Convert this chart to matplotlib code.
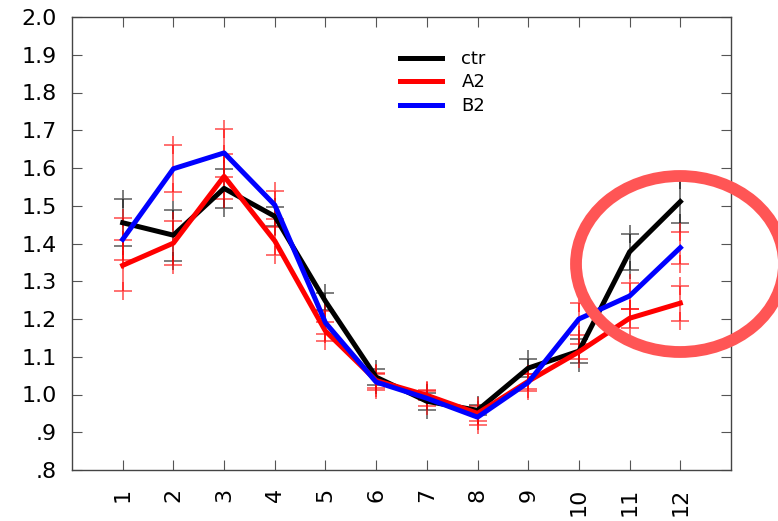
import matplotlib
matplotlib.use("Agg")
import matplotlib.pyplot as plt
from matplotlib.patches import Ellipse
import numpy as np

months = [1, 2, 3, 4, 5, 6, 7, 8, 9, 10, 11, 12]
month_labels = ["1", "2", "3", "4", "5", "6", "7", "8", "9", "10", "11", "12"]

ctr = [1.455, 1.422, 1.546, 1.472, 1.247, 1.046, 0.982, 0.958, 1.070, 1.115, 1.378, 1.511]
ctr_err = [0.062, 0.068, 0.052, 0.026, 0.022, 0.022, 0.022, 0.013, 0.024, 0.032, 0.048, 0.058]

A2 = [1.342, 1.401, 1.578, 1.407, 1.168, 1.037, 0.998, 0.950, 1.035, 1.113, 1.202, 1.242]
A2_err = [0.068, 0.059, 0.060, 0.037, 0.025, 0.020, 0.013, 0.020, 0.020, 0.020, 0.025, 0.046]

B2 = [1.411, 1.598, 1.640, 1.502, 1.190, 1.033, 0.990, 0.940, 1.032, 1.200, 1.261, 1.389]
B2_err = [0.056, 0.062, 0.064, 0.038, 0.030, 0.020, 0.020, 0.020, 0.022, 0.043, 0.035, 0.042]

yticks = [0.8, 0.9, 1.0, 1.1, 1.2, 1.3, 1.4, 1.5, 1.6, 1.7, 1.8, 1.9, 2.0]
ytick_labels = [".8", ".9", "1.0", "1.1", "1.2", "1.3", "1.4", "1.5", "1.6", "1.7", "1.8", "1.9", "2.0"]

plt.rcParams['font.family'] = ['DejaVu Sans']

W, H = 778, 521
fig = plt.figure(figsize=(W / 100, H / 100), dpi=100)
ax = fig.add_axes([72 / W, 1 - 470 / H, (731 - 72) / W, (470 - 17) / H])

x = np.array(months)


def bars(vals, errs, color, alpha):
    v = np.array(vals)
    e = np.array(errs)
    lo, hi = v - e, v + e
    ax.vlines(x, lo, hi, colors=color, lw=1.2, alpha=alpha, zorder=1)
    ax.plot(x, lo, '+', color=color, ms=13, mew=1.2, alpha=alpha, zorder=1)
    ax.plot(x, hi, '+', color=color, ms=13, mew=1.2, alpha=alpha, zorder=1)


bars(ctr, ctr_err, 'black', 0.6)
bars(A2, A2_err, 'red', 0.65)
bars(B2, B2_err, 'red', 0.65)

ax.plot(x, ctr, color='black', lw=3.6, label='ctr', zorder=3)
ax.plot(x, A2, color='red', lw=3.6, label='A2', zorder=3)
ax.plot(x, B2, color='blue', lw=3.6, label='B2', zorder=3)

ax.set_xlim(0, 13)
ax.set_ylim(0.8, 2.0)
ax.set_xticks(months)
ax.set_xticklabels(month_labels, rotation=90, va='top', ha='center')
ax.set_yticks(yticks)
ax.set_yticklabels(ytick_labels)

for s in ax.spines.values():
    s.set_color('#444444')
    s.set_linewidth(1.0)

ax.tick_params(axis='both', direction='in', length=7, width=0.8, color='#555555',
               labelsize=16, top=True, right=True)
ax.tick_params(axis='y', pad=11)
ax.tick_params(axis='x', pad=13)

leg = ax.legend(loc='upper left', bbox_to_anchor=(400 / W, 1 - 50 / H),
                bbox_transform=fig.transFigure, frameon=False, fontsize=13,
                handlelength=2.3, handletextpad=1.1, labelspacing=0.3,
                borderpad=0, borderaxespad=0)

ell = Ellipse((680 / W, 1 - 264 / H), width=208 / W, height=176 / H,
              transform=fig.transFigure, fill=False, lw=8.5,
              edgecolor='#ff5555', zorder=10, clip_on=False)
fig.add_artist(ell)

fig.savefig('out.png', dpi=100)
